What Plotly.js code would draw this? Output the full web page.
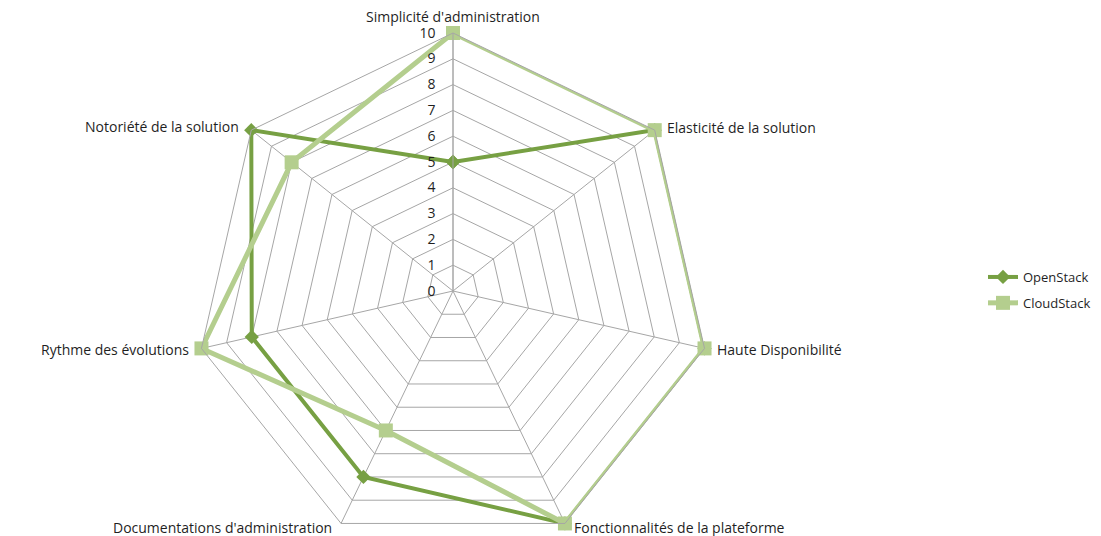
<!DOCTYPE html>
<html>
<head>
<meta charset="utf-8">
<script src="https://cdn.plot.ly/plotly-3.0.1.min.js"></script>
<style>html,body{margin:0;padding:0;overflow:hidden;background:#ffffff}</style>
</head>
<body>
<div id="chart" style="width:1101px;height:552px"></div>
<script>
const categories = [
  "Simplicité d'administration",
  "Elasticité de la solution",
  "Haute Disponibilité",
  "Fonctionnalités de la plateforme",
  "Documentations d'administration",
  "Rythme des évolutions",
  "Notoriété de la solution"
];
const openstack = [5, 10, 10, 10, 8, 8, 10];
const cloudstack = [10, 10, 10, 10, 6, 10, 8];
const radialTicks = [0, 1, 2, 3, 4, 5, 6, 7, 8, 9, 10];

function closed(arr) { return arr.concat([arr[0]]); }

const W = 1101, H = 552;
const CX = 453, CY = 291, R = 258;
const gridColor = '#a6a6a6';
const textColor = '#1f1f1f';
const font = '"Open Sans", Lato, sans-serif';
const fsize = 14;

const traces = [
  {
    type: 'scatterpolar',
    name: 'OpenStack',
    legendgroup: 'a',
    r: closed(openstack),
    theta: closed(categories),
    mode: 'lines+markers',
    line: {color: '#77a043', width: 4},
    marker: {symbol: 'diamond', size: 11, color: '#77a043'},
    hoverinfo: 'name+r+theta'
  },
  {
    type: 'scatterpolar',
    name: 'CloudStack',
    legendgroup: 'b',
    r: closed(cloudstack),
    theta: closed(categories),
    mode: 'lines+markers',
    line: {color: '#b4ce8e', width: 5},
    marker: {symbol: 'square', size: 14, color: '#b4ce8e'},
    hoverinfo: 'name+r+theta'
  }
];

// category labels placed beside each outer vertex, Excel-style
const labelPlace = [
  {dx: 0, dy: -17, anchor: 'center'},
  {dx: 10, dy: -3, anchor: 'left'},
  {dx: 10, dy: 1, anchor: 'left'},
  {dx: 7, dy: 4, anchor: 'left'},
  {dx: -7, dy: 4, anchor: 'right'},
  {dx: -10, dy: 1, anchor: 'right'},
  {dx: -10, dy: -4, anchor: 'right'}
];
const annotations = categories.map(function (c, i) {
  const a = i * 2 * Math.PI / categories.length;
  const vx = CX + R * Math.sin(a), vy = CY - R * Math.cos(a);
  const p = labelPlace[i];
  return {
    text: c, showarrow: false, xref: 'paper', yref: 'paper',
    x: (vx + p.dx) / W, y: 1 - (vy + p.dy) / H,
    xanchor: p.anchor, yanchor: 'middle',
    font: {family: font, size: fsize, color: textColor}
  };
});

const layout = {
  width: W,
  height: H,
  margin: {l: 0, r: 0, t: 0, b: 0},
  paper_bgcolor: '#ffffff',
  font: {family: font, size: fsize, color: textColor},
  showlegend: true,
  legend: {
    x: 983 / W, y: 1 - 290 / H, xanchor: 'left', yanchor: 'middle',
    font: {family: font, size: 13, color: textColor},
    bgcolor: 'rgba(0,0,0,0)',
    tracegroupgap: 6
  },
  annotations: annotations,
  polar: {
    domain: {x: [(CX - R) / W, (CX + R) / W], y: [1 - (CY + R) / H, 1 - (CY - R) / H]},
    bgcolor: '#ffffff',
    gridshape: 'linear',
    radialaxis: {
      range: [0, 10],
      tickvals: radialTicks,
      ticktext: radialTicks.map(String),
      angle: 90,
      side: 'counterclockwise',
      tickangle: 90,
      showline: true,
      linecolor: gridColor,
      linewidth: 1,
      gridcolor: gridColor,
      gridwidth: 1,
      ticks: 'outside',
      ticklen: 12,
      tickcolor: 'rgba(0,0,0,0)',
      tickfont: {family: font, size: fsize, color: textColor}
    },
    angularaxis: {
      direction: 'clockwise',
      rotation: 90,
      showline: true,
      linecolor: gridColor,
      linewidth: 1,
      gridcolor: gridColor,
      gridwidth: 1,
      ticks: '',
      showticklabels: false
    }
  }
};

Plotly.newPlot('chart', traces, layout, {displayModeBar: false, staticPlot: true});
</script>
</body>
</html>
